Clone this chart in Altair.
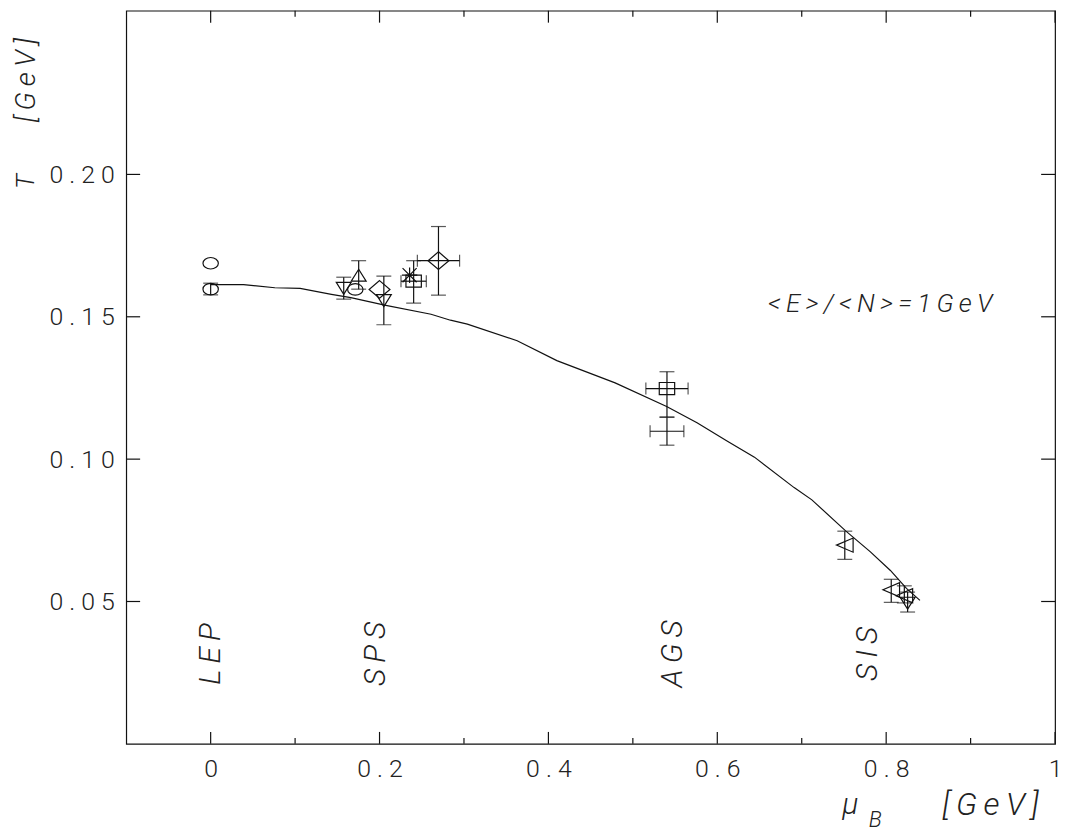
import altair as alt
import pandas as pd

# ---------------- data ----------------
# model curve  <E>/<N> = 1 GeV
curve_mu = [0.000, 0.039, 0.076, 0.106, 0.143, 0.166, 0.206, 0.261, 0.284, 0.304,
            0.363, 0.410, 0.479, 0.540, 0.576, 0.612, 0.644, 0.691, 0.712, 0.752,
            0.781, 0.805, 0.824, 0.840]
curve_T = [0.1613, 0.1613, 0.1602, 0.1600, 0.1579, 0.1567, 0.1541, 0.1509, 0.1488, 0.1474,
           0.1416, 0.1346, 0.1268, 0.1185, 0.1128, 0.1063, 0.1007, 0.0900, 0.0857, 0.0748,
           0.0675, 0.0609, 0.0546, 0.0504]

# freeze-out points
pt_marker = ["circle", "circle", "tri_down", "tri_up", "circle", "diamond", "tri_down", "star",
             "square", "diamond", "square", "none", "tri_left", "tri_left", "tri_left", "tri_down"]
pt_mu = [0.000, 0.000, 0.1576, 0.1753, 0.1713, 0.200, 0.2051, 0.2356,
         0.2404, 0.2698, 0.5404, 0.5404, 0.751, 0.806, 0.8215, 0.8254]
pt_T = [0.1688, 0.1597, 0.1600, 0.1646, 0.1596, 0.1596, 0.1557, 0.1646,
        0.1625, 0.1697, 0.1248, 0.1098, 0.0698, 0.0541, 0.0520, 0.0494]
pt_T_lo = [None, 0.1577, 0.1562, 0.1597, None, None, 0.1472, None,
           0.1548, 0.1576, 0.1148, 0.1049, 0.0648, 0.0497, 0.0495, 0.0463]
pt_T_hi = [None, 0.1618, 0.1639, 0.1697, None, None, 0.1643, None,
           0.1697, 0.1817, 0.1307, 0.1147, 0.0747, 0.0578, 0.0555, 0.0533]
pt_mu_err = [None, None, None, None, None, None, None, None,
             0.015, 0.025, 0.025, 0.020, None, None, None, None]

# experiment labels
exp_labels = ["LEP", "SPS", "AGS", "SIS"]
exp_mu = [0.0, 0.196, 0.548, 0.779]
exp_T = [0.0316, 0.0316, 0.0316, 0.0316]

model_label = ["<E>/<N>=1GeV"]
model_mu = [0.793]
model_T = [0.1545]

x_major = [0.0, 0.2, 0.4, 0.6, 0.8, 1.0]
x_minor = [0.1, 0.3, 0.5, 0.7, 0.9]
y_major = [0.05, 0.10, 0.15, 0.20]

# ---------------- layout ----------------
W, H = 935, 738
FONT = "Roboto"
INK = "#111111"
TXT = "#222222"
SPACE_EXPR = "replace(datum.label, regexp('(.)(?=.)', 'g'), '$1\u2009')"
AXIS_SPACE_EXPR = "replace(datum.label, regexp('(.)(?=.)', 'g'), '$1 ')"

xs = alt.Scale(domain=[-0.1, 1.0], nice=False, zero=False)
ys = alt.Scale(domain=[0, 0.2575], nice=False, zero=False)

x_axis = alt.Axis(values=x_major, format="~g", labelExpr=AXIS_SPACE_EXPR, tickSize=0,
                  domain=False, grid=False, labelPadding=13, labelFlush=False,
                  labelOverlap=False)
y_axis = alt.Axis(values=y_major, format=".2f", labelExpr=AXIS_SPACE_EXPR, tickSize=0,
                  domain=False, grid=False, labelPadding=12, labelFlush=False,
                  labelOverlap=False)


def X(field):
    return alt.X(field, type="quantitative", scale=xs, title=None, axis=x_axis)


def Y(field):
    return alt.Y(field, type="quantitative", scale=ys, title=None, axis=y_axis)


curve_df = pd.DataFrame({"mu": curve_mu, "T": curve_T})
pts = pd.DataFrame({"mu": pt_mu, "T": pt_T, "T_lo": pt_T_lo, "T_hi": pt_T_hi,
                    "mu_err": pt_mu_err, "marker": pt_marker}).astype(
    {"T_lo": float, "T_hi": float, "mu_err": float})
pts["mu_lo"] = pts["mu"] - pts["mu_err"]
pts["mu_hi"] = pts["mu"] + pts["mu_err"]

curve = alt.Chart(curve_df).mark_line(color=INK, strokeWidth=1.2).encode(
    x=X("mu"), y=Y("T"))

base = alt.Chart(pts)
verr = base.transform_filter("isValid(datum.T_lo)")
herr = base.transform_filter("isValid(datum.mu_lo)")

v_rule = verr.mark_rule(color=INK, strokeWidth=1.2).encode(x=X("mu"), y=Y("T_lo"), y2="T_hi")
v_cap_lo = verr.mark_tick(orient="horizontal", size=15, thickness=1.2, color=INK).encode(
    x=X("mu"), y=Y("T_lo"))
v_cap_hi = verr.mark_tick(orient="horizontal", size=15, thickness=1.2, color=INK).encode(
    x=X("mu"), y=Y("T_hi"))
h_rule = herr.mark_rule(color=INK, strokeWidth=1.2).encode(x=X("mu_lo"), x2="mu_hi", y=Y("T"))
h_cap_lo = herr.mark_tick(orient="vertical", size=12, thickness=1.2, color=INK).encode(
    x=X("mu_lo"), y=Y("T"))
h_cap_hi = herr.mark_tick(orient="vertical", size=12, thickness=1.2, color=INK).encode(
    x=X("mu_hi"), y=Y("T"))

marker_styles = {
    "circle": ("M-1,0A1,0.75 0 1,1 1,0A1,0.75 0 1,1 -1,0Z", 240),
    "tri_up": ("M0,-0.8L1,0.8L-1,0.8Z", 225),
    "tri_down": ("M-1,-0.8L1,-0.8L0,0.8Z", 225),
    "tri_left": ("M-1,0L1,-0.85L1,0.85Z", 280),
    "diamond": ("M0,-0.85L1,0L0,0.85L-1,0Z", 441),
    "square": ("M-1,-0.78L1,-0.78L1,0.78L-1,0.78Z", 240),
    "star": ("M-1,-1L1,1M-1,1L1,-1M0,-1.1L0,1.1M-1.1,0L1.1,0", 200),
}
marker_layers = []
for name, (path, size) in marker_styles.items():
    marker_layers.append(
        base.transform_filter(alt.datum.marker == name).mark_point(
            shape=path, size=size, filled=False, stroke=INK, strokeWidth=1.2, opacity=1
        ).encode(x=X("mu"), y=Y("T"))
    )

# ticks (inward)
xmaj = alt.Chart(pd.DataFrame({"v": x_major}))
xmin = alt.Chart(pd.DataFrame({"v": x_minor}))
ymaj = alt.Chart(pd.DataFrame({"v": y_major}))
tick_kw = dict(color=INK, strokeWidth=1.2)
ticks = [
    xmaj.mark_rule(**tick_kw).encode(x=X("v"), y=alt.value(H), y2=alt.value(H - 12)),
    xmin.mark_rule(**tick_kw).encode(x=X("v"), y=alt.value(H), y2=alt.value(H - 6)),
    xmaj.mark_rule(**tick_kw).encode(x=X("v"), y=alt.value(0), y2=alt.value(12)),
    xmin.mark_rule(**tick_kw).encode(x=X("v"), y=alt.value(0), y2=alt.value(6)),
    ymaj.mark_rule(**tick_kw).encode(y=Y("v"), x=alt.value(0), x2=alt.value(14)),
    ymaj.mark_rule(**tick_kw).encode(y=Y("v"), x=alt.value(W), x2=alt.value(W - 14)),
]

# annotations
exp_df = pd.DataFrame({"label": exp_labels, "mu": exp_mu, "T": exp_T})
exp_text = alt.Chart(exp_df).transform_calculate(txt=SPACE_EXPR).mark_text(
    angle=270, align="center", baseline="middle", font=FONT, fontSize=30, fontStyle="italic",
    fontWeight=300, color=TXT
).encode(x=X("mu"), y=Y("T"), text="txt:N")

model_df = pd.DataFrame({"label": model_label, "mu": model_mu, "T": model_T})
model_text = alt.Chart(model_df).transform_calculate(txt=SPACE_EXPR).mark_text(
    align="center", baseline="middle", font=FONT, fontSize=26, fontStyle="italic",
    fontWeight=300, color=TXT
).encode(x=X("mu"), y=Y("T"), text="txt:N")

title_df = pd.DataFrame({"label": ["T", "[GeV]", "\u03bc", "B", "[GeV]"]})


def title_mark(i, x, y, size, angle=0):
    return alt.Chart(title_df).transform_window(
        idx="row_number()").transform_filter(alt.datum.idx == i + 1).transform_calculate(
        txt=SPACE_EXPR).mark_text(
        angle=angle, align="center", baseline="middle", font=FONT, fontSize=size,
        fontStyle="italic", fontWeight=300, color=TXT
    ).encode(text="txt:N", x=alt.value(x), y=alt.value(y))


titles = [
    title_mark(0, -101, 172, 26, 270),
    title_mark(1, -100, 70, 28, 270),
    title_mark(2, 729, 800, 30),
    title_mark(3, 754, 815, 22),
    title_mark(4, 870, 800, 32),
]

chart = alt.layer(
    curve, *ticks, v_rule, v_cap_lo, v_cap_hi, h_rule, h_cap_lo, h_cap_hi,
    *marker_layers, exp_text, model_text, *titles
).properties(
    width=W, height=H,
    autosize=alt.AutoSizeParams(type="none"),
    padding={"left": 119, "top": 0, "right": 8, "bottom": 86},
).configure_view(
    stroke=INK, strokeWidth=1.2
).configure_axis(
    labelFont=FONT, labelFontSize=25, labelFontWeight=300, labelColor=TXT
)

chart.save("out.html", embed_options={"renderer": "svg", "actions": False})
